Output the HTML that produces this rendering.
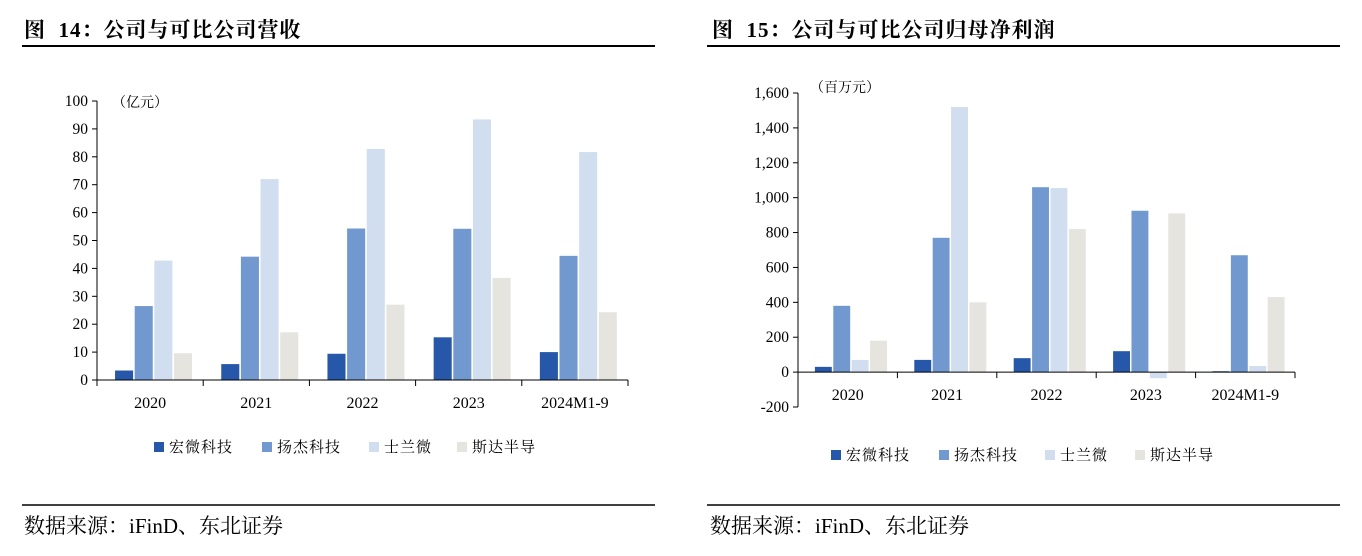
<!DOCTYPE html>
<html><head><meta charset="utf-8"><style>
body{margin:0;width:1362px;height:556px;background:#fff;overflow:hidden;font-family:"Liberation Serif","Noto Serif CJK SC",serif}
svg{position:absolute;left:0;top:0}
</style></head><body>
<svg width="1362" height="556">
<g id="static" font-family="Liberation Serif, Noto Serif CJK SC, serif">
<text x="24" y="37" font-size="21" font-weight="bold" letter-spacing="1" xml:space="preserve">图  14：公司与可比公司营收</text>
<line x1="22" y1="46" x2="655" y2="46" stroke="#000" stroke-width="2"/>
<line x1="22" y1="505" x2="655" y2="505" stroke="#000" stroke-width="1.5"/>
<text x="24" y="533" font-size="21">数据来源：iFinD、东北证券</text>
<text x="712" y="37" font-size="21" font-weight="bold" letter-spacing="1" xml:space="preserve">图  15：公司与可比公司归母净利润</text>
<line x1="707" y1="46" x2="1340" y2="46" stroke="#000" stroke-width="2"/>
<line x1="707" y1="505" x2="1340" y2="505" stroke="#000" stroke-width="1.5"/>
<text x="710" y="533" font-size="21">数据来源：iFinD、东北证券</text>
<text x="112" y="107" font-size="14">（亿元）</text>
<text x="810" y="92" font-size="14">（百万元）</text>
</g>
<g id="left"></g><g id="right"></g>
</svg>
<script>
const categories=["2020","2021","2022","2023","2024M1-9"];
const seriesNames=["宏微科技","扬杰科技","士兰微","斯达半导"];
const colors=["#2657a8","#7199cf","#d0deef","#e6e4df"];
const revHongwei=[3.4,5.7,9.4,15.3,10.0];
const revYangjie=[26.5,44.2,54.3,54.2,44.5];
const revSilan=[42.8,72.0,82.8,93.4,81.7];
const revStar=[9.6,17.1,27.0,36.6,24.3];
const profHongwei=[30,70,80,120,5];
const profYangjie=[380,770,1060,925,670];
const profSilan=[70,1520,1055,-35,35];
const profStar=[180,400,820,910,430];
const leftTicks=[0,10,20,30,40,50,60,70,80,90,100];
const rightTicks=[-200,0,200,400,600,800,1000,1200,1400,1600];
const NS="http://www.w3.org/2000/svg";
function mk(p,t,a){const e=document.createElementNS(NS,t);for(const k in a)e.setAttribute(k,a[k]);p.appendChild(e);return e;}
function chart(g,o){
  const y=v=>o.y0-(v-o.min)/(o.max-o.min)*(o.y0-o.y1);
  const cw=(o.x1-o.x0)/categories.length;
  mk(g,"line",{x1:o.x0,y1:y(o.min),x2:o.x0,y2:y(o.max),stroke:"#000","stroke-width":1});
  o.ticks.forEach(t=>{
    mk(g,"line",{x1:o.x0-5,y1:y(t),x2:o.x0,y2:y(t),stroke:"#000"});
    const tx=mk(g,"text",{x:o.x0-9,y:y(t)+5,"font-size":15.5,"text-anchor":"end"});
    
    
    tx.textContent=o.fmt(t);
  });
  const bw=cw*0.17,gap=cw*0.015;
  o.series.forEach((s,si)=>s.forEach((v,ci)=>{
    const x=o.x0+ci*cw+cw*0.17+si*(bw+gap);
    const r=mk(g,"rect",{x:x,y:Math.min(y(v),y(0)),width:bw,height:Math.abs(y(v)-y(0)),fill:colors[si]});
    
    
  }));
  mk(g,"line",{x1:o.x0,y1:y(0),x2:o.x1,y2:y(0),stroke:"#000"});
  for(let i=0;i<=categories.length;i++)mk(g,"line",{x1:o.x0+i*cw,y1:y(0),x2:o.x0+i*cw,y2:y(0)+6,stroke:"#000"});
  categories.forEach((c,i)=>{
    const t=mk(g,"text",{x:o.x0+(i+0.5)*cw,y:o.labY,"font-size":16,"text-anchor":"middle"});
    
    
    t.textContent=c;
  });
  seriesNames.forEach((n,i)=>{
    const lx=o.legX[i];
    mk(g,"rect",{x:lx,y:o.legY-10,width:10,height:10,fill:colors[i]});
    const t=mk(g,"text",{x:lx+15,y:o.legY,"font-size":15,"letter-spacing":1,"font-family":"Noto Serif CJK SC, serif"});
    
    
    t.textContent=n;
  });
}
chart(document.getElementById("left"),{x0:97,x1:628,y0:380,y1:101,min:0,max:100,ticks:leftTicks,fmt:t=>t,
  series:[revHongwei,revYangjie,revSilan,revStar],labY:408,legX:[154,262,369,457],legY:452});
chart(document.getElementById("right"),{x0:798,x1:1295,y0:407,y1:93,min:-200,max:1600,ticks:rightTicks,fmt:t=>t.toLocaleString("en-US"),
  series:[profHongwei,profYangjie,profSilan,profStar],labY:400,legX:[831,939,1045,1135],legY:460});
</script>
</body></html>
